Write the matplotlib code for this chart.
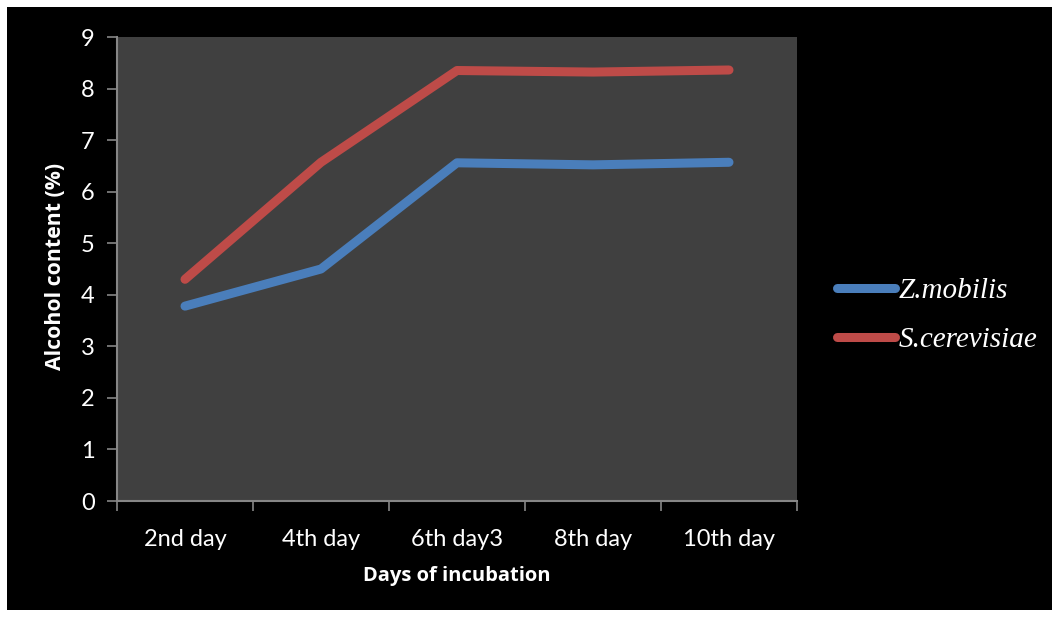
import matplotlib.pyplot as plt
from matplotlib.patches import Rectangle

days = ["2nd day", "4th day", "6th day3", "8th day", "10th day"]
z_mobilis = [3.78, 4.50, 6.56, 6.52, 6.57]
s_cerevisiae = [4.30, 6.57, 8.35, 8.32, 8.36]

fig = plt.figure(figsize=(10.58, 6.18), dpi=100)
fig.patch.set_facecolor("white")
# black chart area inside a thin white margin
fig.add_artist(Rectangle((7 / 1058, 8 / 618), 1045 / 1058, 603 / 618,
                         transform=fig.transFigure, facecolor="black",
                         edgecolor="none", zorder=0))

ax = fig.add_axes([117 / 1058, 1 - 501 / 618, 680 / 1058, 464 / 618])
ax.set_facecolor("#404040")

x = range(len(days))
ax.plot(x, z_mobilis, color="#4A7EBB", lw=6.5, solid_capstyle="round",
        solid_joinstyle="round", label="Z.mobilis")
ax.plot(x, s_cerevisiae, color="#BE4B48", lw=6.5, solid_capstyle="round",
        solid_joinstyle="round", label="S.cerevisiae")

ax.set_xlim(-0.5, len(days) - 0.5)
ax.set_ylim(0, 9)
ax.set_yticks(range(10))
ax.set_xticks(list(x))
ax.set_xticklabels(days)
ax.set_xticks([i - 0.5 for i in range(len(days) + 1)], minor=True)

for lab in ax.get_xticklabels() + ax.get_yticklabels():
    lab.set_fontfamily("Lato")
    lab.set_fontsize(17)
    lab.set_color("white")

ax.tick_params(axis="x", which="major", length=0, pad=20)
ax.tick_params(axis="x", which="minor", length=7, width=1.2, color="#868686")
ax.tick_params(axis="y", length=7, width=1.2, color="#868686", pad=9)

for side in ["top", "right"]:
    ax.spines[side].set_visible(False)
for side in ["left", "bottom"]:
    ax.spines[side].set_color("#868686")
    ax.spines[side].set_linewidth(1.5)

ax.set_xlabel("Days of incubation", color="white", fontsize=14.5,
              fontweight="bold", fontfamily="Open Sans")
ax.set_ylabel("Alcohol content (%)", color="white", fontsize=15.3,
              fontweight="bold", fontfamily="Open Sans")
ax.xaxis.set_label_coords(0.5, -0.162)
ax.yaxis.set_label_coords(-0.091, 0.505)
ax.xaxis.label.set_va("center")
ax.yaxis.label.set_va("center")

leg = ax.legend(loc="center left", bbox_to_anchor=(1.02, 0.40), frameon=False,
                handlelength=2.0, handletextpad=0.12, labelspacing=0.75,
                prop={"family": "Liberation Serif", "style": "italic", "size": 21})
for t in leg.get_texts():
    t.set_color("white")

fig.savefig("out.png", dpi=100, facecolor=fig.get_facecolor())
